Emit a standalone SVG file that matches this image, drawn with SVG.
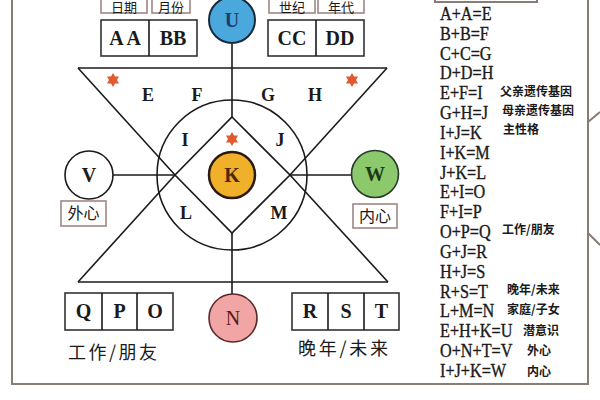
<svg xmlns="http://www.w3.org/2000/svg" xmlns:xlink="http://www.w3.org/1999/xlink" width="600" height="400" viewBox="0 0 600 400">
<style>
.frame{fill:none;stroke:#8a7b78;stroke-width:2}
.ln{fill:none;stroke:#1a1a1a;stroke-width:1.6}
.box{fill:#fff;stroke:#333;stroke-width:1.6}
.lbox{fill:#fff;stroke:#a08585;stroke-width:1.6}
.bl{font-family:"Liberation Serif",serif;font-weight:bold;font-size:20px;fill:#1a1a1a;text-anchor:middle}
.il{font-family:"Liberation Serif",serif;font-weight:bold;font-size:18px;fill:#1a1a1a;text-anchor:middle}
.cn{font-family:"Noto Sans CJK SC",sans-serif;fill:#1a1a1a}
.eq{font-family:"Liberation Serif",serif;font-size:18px;fill:#1a1a1a;stroke:#1a1a1a;stroke-width:0.35}
.note{font-family:"Noto Sans CJK SC",sans-serif;font-size:12px;font-weight:bold;fill:#1a1a1a}
.star{fill:#e05a30}
</style>
<defs>
<path id="star" d="M0,-7 L2,-3.46 L6.06,-3.5 L4,0 L6.06,3.5 L2,3.46 L0,7 L-2,3.46 L-6.06,3.5 L-4,0 L-6.06,-3.5 L-2,-3.46 Z"/>
</defs>
<rect width="600" height="400" fill="#fff"/>
<path class="frame" d="M12,0 V384 H588 V0"/>
<path class="frame" d="M435,-5 V2 H537 V-5"/>
<path class="frame" d="M588,122 L600,112 M588,233 L600,245"/>

<g id="connectors">
<line class="ln" x1="78" y1="68" x2="387" y2="68"/>
<line class="ln" x1="78" y1="68" x2="175" y2="175"/>
<line class="ln" x1="387" y1="68" x2="290" y2="175"/>
<line class="ln" x1="78" y1="282" x2="175" y2="175"/>
<line class="ln" x1="388" y1="282" x2="290" y2="175"/>
<line class="ln" x1="78" y1="282" x2="388" y2="282"/>
<circle class="ln" cx="232" cy="175" r="75"/>
<path class="ln" d="M232,117 L290,175 L232,233 L175,175 Z"/>
<line class="ln" x1="232" y1="43" x2="232" y2="117"/>
<line class="ln" x1="232" y1="233" x2="232" y2="295"/>
<line class="ln" x1="113" y1="175" x2="175" y2="175"/>
<line class="ln" x1="290" y1="175" x2="352" y2="175"/>
</g>

<g id="label-riqi"><rect class="lbox" x="101" y="-6" width="46" height="19"/><text class="cn" x="124" y="11.5" font-size="13" text-anchor="middle">日期</text></g>
<g id="label-yuefen"><rect class="lbox" x="152" y="-6" width="38" height="19"/><text class="cn" x="171" y="11.5" font-size="13" text-anchor="middle">月份</text></g>
<g id="label-shiji"><rect class="lbox" x="269" y="-6" width="46" height="19"/><text class="cn" x="292" y="11.5" font-size="13" text-anchor="middle">世纪</text></g>
<g id="label-niandai"><rect class="lbox" x="318" y="-6" width="46" height="19"/><text class="cn" x="341" y="11.5" font-size="13" text-anchor="middle">年代</text></g>

<g id="box-AABB">
<rect class="box" x="101" y="20" width="96" height="36"/>
<line class="ln" x1="149" y1="20" x2="149" y2="56"/>
<text class="bl" x="125" y="45">A A</text>
<text class="bl" x="173" y="45">BB</text>
</g>
<g id="box-CCDD">
<rect class="box" x="268" y="20" width="96" height="36"/>
<line class="ln" x1="316" y1="20" x2="316" y2="56"/>
<text class="bl" x="292" y="45">CC</text>
<text class="bl" x="340" y="45">DD</text>
</g>

<g id="node-U"><circle cx="232" cy="20" r="23" fill="#4aa8dc" stroke="#1a2a3a" stroke-width="2"/><text class="bl" x="232" y="27" style="fill:#1d3d6a">U</text></g>

<g id="stars">
<use href="#star" class="star" x="113" y="80"/>
<use href="#star" class="star" x="352" y="80"/>
<use href="#star" class="star" x="232" y="139"/>
</g>

<g id="letters">
<text class="il" x="148" y="101">E</text>
<text class="il" x="197" y="101">F</text>
<text class="il" x="268" y="101">G</text>
<text class="il" x="315" y="101">H</text>
<text class="il" x="185" y="146">I</text>
<text class="il" x="280" y="146">J</text>
<text class="il" x="186" y="219">L</text>
<text class="il" x="279" y="219">M</text>
</g>

<g id="node-K"><circle cx="232" cy="175" r="23" fill="#f0b02a" stroke="#2a1a10" stroke-width="2.5"/><text class="bl" x="232" y="182" style="fill:#4a2a10">K</text></g>

<g id="node-V"><circle cx="89" cy="175" r="24" fill="#fff" stroke="#1a1a1a" stroke-width="1.6"/><text class="bl" x="89" y="182">V</text></g>
<g id="label-waixin"><rect class="lbox" x="61" y="201" width="45" height="25"/><text class="cn" x="83.5" y="219" font-size="16" text-anchor="middle">外心</text></g>

<g id="node-W"><circle cx="375" cy="174" r="23.5" fill="#8cc86c" stroke="#2a3a2a" stroke-width="1.6"/><text class="bl" x="375" y="181" style="fill:#1a3a14">W</text></g>
<g id="label-neixin"><rect class="lbox" x="353" y="204" width="44" height="24"/><text class="cn" x="375" y="221.5" font-size="16" text-anchor="middle">内心</text></g>

<g id="node-N"><circle cx="233" cy="318" r="24" fill="#f2a5a5" stroke="#5a2a2a" stroke-width="1.6"/><text class="bl" x="233" y="325" style="fill:#5a1a1a;font-weight:normal">N</text></g>

<g id="box-QPO">
<rect class="box" x="65" y="293" width="108" height="37"/>
<line class="ln" x1="102" y1="293" x2="102" y2="330"/>
<line class="ln" x1="137" y1="293" x2="137" y2="330"/>
<text class="bl" x="83.5" y="318">Q</text>
<text class="bl" x="119.5" y="318">P</text>
<text class="bl" x="155" y="318">O</text>
</g>
<g id="label-work"><text class="cn" x="68" y="359" font-size="18" textLength="89" lengthAdjust="spacing">工作/朋友</text></g>

<g id="box-RST">
<rect class="box" x="292" y="293" width="107" height="37"/>
<line class="ln" x1="328" y1="293" x2="328" y2="330"/>
<line class="ln" x1="364" y1="293" x2="364" y2="330"/>
<text class="bl" x="310" y="318">R</text>
<text class="bl" x="346" y="318">S</text>
<text class="bl" x="381.5" y="318">T</text>
</g>
<g id="label-future"><text class="cn" x="298" y="355" font-size="18" textLength="90" lengthAdjust="spacing">晚年/未来</text></g>

<g id="formulas">
<g transform="translate(440,0) scale(0.9,1)">
<text class="eq" x="0" y="20">A+A=E</text>
<text class="eq" x="0" y="39.8">B+B=F</text>
<text class="eq" x="0" y="59.7">C+C=G</text>
<text class="eq" x="0" y="79.5">D+D=H</text>
<text class="eq" x="0" y="99.3">E+F=I</text>
<text class="eq" x="0" y="119.2">G+H=J</text>
<text class="eq" x="0" y="139">I+J=K</text>
<text class="eq" x="0" y="158.8">I+K=M</text>
<text class="eq" x="0" y="178.6">J+K=L</text>
<text class="eq" x="0" y="198.5">E+I=O</text>
<text class="eq" x="0" y="218.3">F+I=P</text>
<text class="eq" x="0" y="238.1">O+P=Q</text>
<text class="eq" x="0" y="258">G+J=R</text>
<text class="eq" x="0" y="277.8">H+J=S</text>
<text class="eq" x="0" y="297.6">R+S=T</text>
<text class="eq" x="0" y="317.5">L+M=N</text>
<text class="eq" x="0" y="337.3">E+H+K=U</text>
<text class="eq" x="0" y="357.1">O+N+T=V</text>
<text class="eq" x="0" y="377">I+J+K=W</text>
</g>
<text class="note" x="500" y="96">父亲遗传基因</text>
<text class="note" x="502" y="115">母亲遗传基因</text>
<text class="note" x="503" y="134">主性格</text>
<text class="note" x="502" y="234">工作/朋友</text>
<text class="note" x="507" y="294">晚年/未来</text>
<text class="note" x="507" y="314">家庭/子女</text>
<text class="note" x="523" y="335">潜意识</text>
<text class="note" x="527" y="355">外心</text>
<text class="note" x="527" y="376">内心</text>
</g>
</svg>
